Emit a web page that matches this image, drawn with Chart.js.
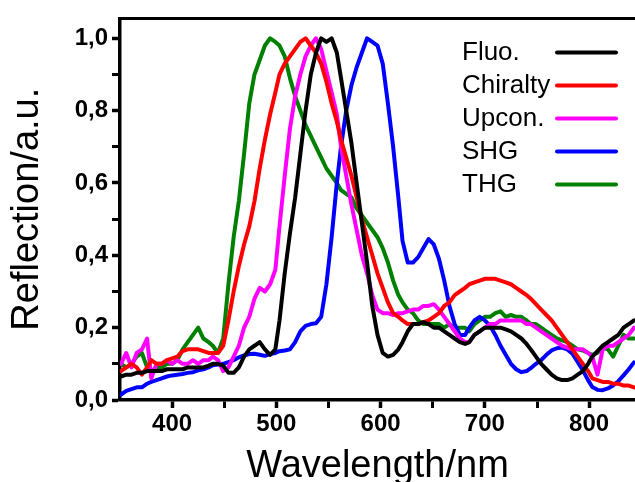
<!DOCTYPE html>
<html>
<head>
<meta charset="utf-8">
<script src="https://cdn.jsdelivr.net/npm/chart.js@4.4.0/dist/chart.umd.min.js"></script>
<style>
body { margin: 0; background: #fff; }
#wrap { width: 635px; height: 482px; }
</style>
</head>
<body>
<div id="wrap"><canvas id="chart" width="635" height="482"></canvas></div>
<script>
// wavelengths (nm) where the curves were read
var wavelength = [
	351, 356, 361, 366, 371, 376, 380, 385, 390, 395,
	400, 405, 410, 415, 420, 425, 430, 435, 439, 444,
	449, 454, 459, 464, 469, 474, 479, 484, 489, 494,
	499, 503, 508, 513, 518, 523, 528, 533, 538, 543,
	548, 553, 558, 562, 567, 572, 577, 582, 587, 592,
	597, 602, 607, 612, 617, 621, 626, 631, 636, 641,
	646, 651, 656, 661, 666, 671, 676, 681, 685, 690,
	695, 700, 705, 710, 715, 720, 725, 730, 735, 740,
	744, 749, 754, 759, 764, 769, 774, 779, 784, 789,
	794, 799, 803, 808, 813, 818, 823, 828, 833, 838,
	843
];

var fluo = [
	0.065, 0.07, 0.07, 0.075, 0.075, 0.08, 0.08, 0.08, 0.08, 0.085,
	0.085, 0.085, 0.085, 0.09, 0.09, 0.09, 0.09, 0.095, 0.1, 0.1,
	0.095, 0.075, 0.075, 0.09, 0.12, 0.14, 0.15, 0.16, 0.14, 0.125,
	0.14, 0.22, 0.35, 0.46, 0.56, 0.68, 0.8, 0.9, 0.96, 1.0,
	0.99, 1.0, 0.96, 0.89, 0.8, 0.71, 0.6, 0.49, 0.38, 0.26,
	0.18, 0.13, 0.12, 0.125, 0.14, 0.16, 0.19, 0.21, 0.21, 0.215,
	0.21, 0.2, 0.2, 0.19, 0.18, 0.17, 0.16, 0.155, 0.16, 0.18,
	0.19, 0.2, 0.2, 0.2, 0.2, 0.195, 0.19, 0.18, 0.17, 0.155,
	0.14, 0.12, 0.1, 0.085, 0.07, 0.06, 0.055, 0.055, 0.06, 0.07,
	0.08, 0.1, 0.12, 0.135, 0.15, 0.16, 0.17, 0.18, 0.2, 0.21,
	0.22
];

var chiralty = [
	0.08, 0.09, 0.1, 0.09, 0.07, 0.09, 0.11, 0.1, 0.1, 0.11,
	0.115, 0.12, 0.135, 0.14, 0.14, 0.14, 0.135, 0.13, 0.13, 0.13,
	0.15, 0.22, 0.3, 0.37, 0.43, 0.48, 0.55, 0.64, 0.72, 0.79,
	0.85, 0.9, 0.93, 0.95, 0.97, 0.99, 1.0, 0.98, 0.96, 0.93,
	0.88, 0.82, 0.77, 0.72, 0.67, 0.62, 0.56, 0.5, 0.45, 0.4,
	0.35, 0.31, 0.27, 0.24, 0.23, 0.22, 0.21, 0.21, 0.21, 0.215,
	0.22, 0.23, 0.24, 0.26, 0.27, 0.29, 0.3, 0.31, 0.32, 0.325,
	0.33, 0.335, 0.335, 0.335, 0.33, 0.325, 0.32, 0.31, 0.3, 0.29,
	0.28, 0.265, 0.25, 0.235, 0.22, 0.2, 0.18, 0.16, 0.14, 0.12,
	0.1, 0.08, 0.06, 0.055, 0.05, 0.05, 0.045, 0.045, 0.04, 0.04,
	0.035
];

var upcon = [
	0.1, 0.13, 0.09, 0.13, 0.14, 0.17, 0.06, 0.1, 0.1, 0.11,
	0.1, 0.11, 0.1, 0.1, 0.11, 0.1, 0.11, 0.11, 0.12, 0.11,
	0.08, 0.09, 0.12, 0.15, 0.2, 0.23, 0.28, 0.31, 0.3, 0.32,
	0.36, 0.48, 0.62, 0.75, 0.84, 0.9, 0.95, 0.98, 1.0, 0.97,
	0.91, 0.85, 0.79, 0.7, 0.62, 0.54, 0.47, 0.4, 0.35, 0.29,
	0.25, 0.24, 0.24, 0.235, 0.24, 0.24, 0.245, 0.25, 0.25, 0.26,
	0.26, 0.265, 0.25, 0.23, 0.21, 0.19, 0.17, 0.16, 0.16, 0.18,
	0.19, 0.2, 0.21, 0.21, 0.22, 0.22, 0.22, 0.22, 0.22, 0.21,
	0.21, 0.2, 0.19, 0.18, 0.17, 0.16, 0.15, 0.145, 0.14, 0.14,
	0.14, 0.13, 0.12, 0.07, 0.14, 0.15, 0.15, 0.16, 0.17, 0.18,
	0.2
];

var shg = [
	0.015, 0.025, 0.03, 0.035, 0.035, 0.045, 0.05, 0.055, 0.06, 0.065,
	0.068, 0.07, 0.072, 0.075, 0.077, 0.082, 0.085, 0.09, 0.096, 0.098,
	0.1, 0.105, 0.11, 0.118, 0.123, 0.127, 0.128, 0.125, 0.122, 0.127,
	0.13, 0.135, 0.137, 0.14, 0.16, 0.19, 0.205, 0.21, 0.212, 0.23,
	0.32, 0.45, 0.6, 0.7, 0.8, 0.87, 0.92, 0.96, 1.0, 0.99,
	0.98, 0.93, 0.82, 0.7, 0.56, 0.44, 0.38, 0.38, 0.395, 0.42,
	0.445, 0.43, 0.39, 0.33, 0.26, 0.21, 0.18, 0.18, 0.2, 0.22,
	0.23, 0.22, 0.205, 0.18, 0.15, 0.125, 0.1, 0.085, 0.077, 0.08,
	0.088, 0.1, 0.11, 0.125, 0.137, 0.143, 0.145, 0.14, 0.128, 0.105,
	0.082, 0.055, 0.036, 0.028, 0.027, 0.032, 0.04, 0.052, 0.068, 0.085,
	0.104
];

var thg = [
	0.1, 0.09, 0.1, 0.12, 0.13, 0.09, 0.08, 0.09, 0.09, 0.1,
	0.1, 0.11, 0.14, 0.16, 0.18, 0.2, 0.17, 0.16, 0.15, 0.13,
	0.17, 0.32, 0.45, 0.55, 0.68, 0.82, 0.9, 0.94, 0.98, 1.0,
	0.99, 0.98, 0.95, 0.89, 0.84, 0.8, 0.76, 0.73, 0.7, 0.67,
	0.64, 0.62, 0.6, 0.58, 0.57, 0.56, 0.53, 0.51, 0.49, 0.47,
	0.45, 0.42, 0.38, 0.33, 0.29, 0.27, 0.25, 0.24, 0.22, 0.21,
	0.21, 0.21, 0.21, 0.2, 0.21, 0.2, 0.2, 0.2, 0.19, 0.21,
	0.22, 0.23, 0.23, 0.24, 0.245, 0.23, 0.235, 0.23, 0.23, 0.22,
	0.21, 0.21, 0.2, 0.19, 0.18, 0.17, 0.165, 0.16, 0.15, 0.14,
	0.137, 0.13, 0.125, 0.13, 0.145, 0.14, 0.12, 0.15, 0.18, 0.17,
	0.17
];

var seriesNames = ['Fluo.', 'Chiralty', 'Upcon.', 'SHG', 'THG'];
var seriesColors = ['#000000', '#ff0000', '#ff00ff', '#0000ff', '#008000'];
var xTicks = [400, 450, 500, 550, 600, 650, 700, 750, 800];
var yTicks = [0, 0.1, 0.2, 0.3, 0.4, 0.5, 0.6, 0.7, 0.8, 0.9, 1.0];

Chart.defaults.font.family = '"Liberation Sans", Arial, sans-serif';
Chart.defaults.color = '#000';

function toPoints(values) {
	return values.map(function (v, i) { return { x: wavelength[i], y: v }; });
}

var allSeries = [fluo, chiralty, upcon, shg, thg];
var datasets = allSeries.map(function (values, i) {
	return {
		label: seriesNames[i],
		data: toPoints(values),
		borderColor: seriesColors[i],
		backgroundColor: seriesColors[i],
		borderWidth: 4,
		pointRadius: 0,
		borderJoinStyle: 'round',
		borderCapStyle: 'round',
		fill: false
	};
});

// legend drawn inside the plot: name first, then a short line
var legendLines = {
	id: 'legendLines',
	afterDatasetsDraw: function (chart) {
		var ctx = chart.ctx, area = chart.chartArea;
		ctx.save();
		ctx.font = '26px "Liberation Sans", Arial, sans-serif';
		ctx.textBaseline = 'middle';
		ctx.lineCap = 'round';
		chart.data.datasets.forEach(function (ds, i) {
			var y = area.top + 34 + i * 33;
			ctx.fillStyle = '#000';
			ctx.fillText(ds.label, area.left + 342, y);
			ctx.strokeStyle = ds.borderColor;
			ctx.lineWidth = 4;
			ctx.beginPath();
			ctx.moveTo(area.right - 78, y);
			ctx.lineTo(area.right - 19, y);
			ctx.stroke();
		});
		ctx.restore();
	}
};

var tickFont = { size: 24, weight: 'bold' };

new Chart(document.getElementById('chart'), {
	type: 'line',
	data: { datasets: datasets },
	plugins: [legendLines],
	options: {
		responsive: false,
		animation: false,
		layout: { padding: { top: 15, right: 0, left: 0, bottom: 0 } },
		plugins: {
			legend: { display: false },
			tooltip: { enabled: false }
		},
		scales: {
			x: {
				type: 'linear',
				position: 'bottom',
				min: 350,
				max: 844,
				afterBuildTicks: function (s) { s.ticks = xTicks.map(function (v) { return { value: v }; }); },
				afterFit: function (s) { s.height = 82; },
				ticks: {
					font: tickFont,
					color: '#000',
					padding: 2,
					maxRotation: 0,
					autoSkip: false,
					callback: function (v) { return v % 100 === 0 ? String(v) : ''; }
				},
				grid: {
					drawOnChartArea: false,
					drawTicks: true,
					tickLength: 8,
					tickColor: '#000',
					tickWidth: function (c) { return c.tick && c.tick.value % 100 === 0 ? 3.5 : 3; }
				},
				border: { color: '#000', width: 3.5 },
				title: {
					display: true,
					text: 'Wavelength/nm',
					color: '#000',
					font: { size: 38, lineHeight: 0.8 },
					padding: 0
				}
			},
			x2: {
				type: 'linear',
				position: 'top',
				ticks: { display: false },
				grid: { display: false },
				border: { color: '#000', width: 3 },
				afterFit: function (s) { s.height = 0; }
			},
			y: {
				min: 0,
				max: 1.055,
				afterBuildTicks: function (s) { s.ticks = yTicks.map(function (v) { return { value: v }; }); },
				afterFit: function (s) { s.width = 120; },
				ticks: {
					font: tickFont,
					color: '#000',
					padding: 4,
					autoSkip: false,
					callback: function (v) {
						var k = Math.round(v * 10);
						return k % 2 === 0 ? (k / 10).toFixed(1).replace('.', ',') : '';
					}
				},
				grid: {
					drawOnChartArea: false,
					drawTicks: true,
					tickLength: 8,
					tickColor: '#000',
					tickWidth: function (c) { return c.tick && Math.round(c.tick.value * 10) % 2 === 0 ? 3.5 : 3; }
				},
				border: { color: '#000', width: 3.5 },
				title: {
					display: true,
					text: 'Reflection/a.u.',
					color: '#000',
					font: { size: 38 },
					padding: { top: 5, bottom: 0 }
				}
			}
		}
	}
});
</script>
</body>
</html>
